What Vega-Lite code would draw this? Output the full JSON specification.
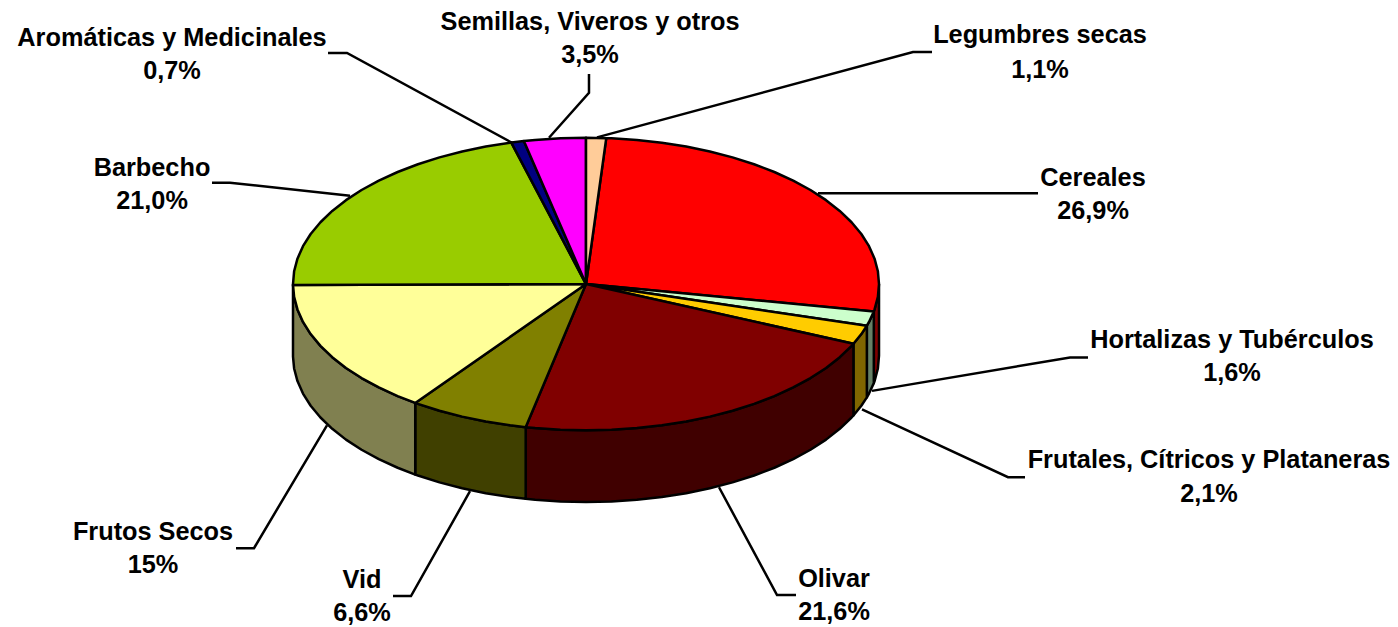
{
"$schema":"https://vega.github.io/schema/vega-lite/v6.json",
"width":1398,"height":627,
"autosize":{"type":"fit","contains":"padding"},
"padding":0,
"background":"white",
"view":{"stroke":null},
"datasets":{
"lideres":[
{"lider":"Legumbres secas","i":0,"x":0.0375,"y":1.003},{"lider":"Legumbres secas","i":1,"x":1.116,"y":1.587},{"lider":"Legumbres secas","i":2,"x":1.1809,"y":1.587},
{"lider":"Cereales","i":0,"x":0.7918,"y":0.6212},{"lider":"Cereales","i":1,"x":1.5427,"y":0.6212},
{"lider":"Hortalizas y Tubérculos","i":0,"x":0.9761,"y":-0.7304},{"lider":"Hortalizas y Tubérculos","i":1,"x":1.6519,"y":-0.5017},{"lider":"Hortalizas y Tubérculos","i":2,"x":1.7133,"y":-0.5017},
{"lider":"Frutales, Cítricos y Plataneras","i":0,"x":0.942,"y":-0.8567},{"lider":"Frutales, Cítricos y Plataneras","i":1,"x":1.4403,"y":-1.3208},{"lider":"Frutales, Cítricos y Plataneras","i":2,"x":1.4983,"y":-1.3208},
{"lider":"Olivar","i":0,"x":0.4539,"y":-1.3891},{"lider":"Olivar","i":1,"x":0.6519,"y":-2.1263},{"lider":"Olivar","i":2,"x":0.7167,"y":-2.1263},
{"lider":"Vid","i":0,"x":-0.3959,"y":-1.4164},{"lider":"Vid","i":1,"x":-0.5973,"y":-2.1331},{"lider":"Vid","i":2,"x":-0.6587,"y":-2.1331},
{"lider":"Frutos Secos","i":0,"x":-0.884,"y":-0.9659},{"lider":"Frutos Secos","i":1,"x":-1.1331,"y":-1.8055},{"lider":"Frutos Secos","i":2,"x":-1.1945,"y":-1.8055},
{"lider":"Barbecho","i":0,"x":-0.8055,"y":0.6041},{"lider":"Barbecho","i":1,"x":-1.215,"y":0.6928},{"lider":"Barbecho","i":2,"x":-1.2765,"y":0.6928},
{"lider":"Aromáticas y Medicinales","i":0,"x":-0.2526,"y":0.9659},{"lider":"Aromáticas y Medicinales","i":1,"x":-0.8157,"y":1.5802},{"lider":"Aromáticas y Medicinales","i":2,"x":-0.8805,"y":1.5802},
{"lider":"Semillas, Viveros y otros","i":0,"x":-0.1263,"y":1.0},{"lider":"Semillas, Viveros y otros","i":1,"x":0.0102,"y":1.3072},{"lider":"Semillas, Viveros y otros","i":2,"x":0.0102,"y":1.4369}
],
"laterales":[
{"sector":"Cereales","i":0,"x":1,"y":0},{"sector":"Cereales","i":1,"x":0.9962,"y":-0.0872},{"sector":"Cereales","i":2,"x":0.9848,"y":-0.1736},{"sector":"Cereales","i":3,"x":0.9823,"y":-0.1874},{"sector":"Cereales","i":4,"x":0.9823,"y":-0.6774},{"sector":"Cereales","i":5,"x":0.9848,"y":-0.6636},{"sector":"Cereales","i":6,"x":0.9962,"y":-0.5772},{"sector":"Cereales","i":7,"x":1,"y":-0.49},{"sector":"Cereales","i":8,"x":1,"y":0},
{"sector":"Hortalizas","i":0,"x":0.9823,"y":-0.1874},{"sector":"Hortalizas","i":1,"x":0.9659,"y":-0.2588},{"sector":"Hortalizas","i":2,"x":0.9585,"y":-0.285},{"sector":"Hortalizas","i":3,"x":0.9585,"y":-0.775},{"sector":"Hortalizas","i":4,"x":0.9659,"y":-0.7488},{"sector":"Hortalizas","i":5,"x":0.9823,"y":-0.6774},{"sector":"Hortalizas","i":6,"x":0.9823,"y":-0.1874},
{"sector":"Frutales","i":0,"x":0.9585,"y":-0.285},{"sector":"Frutales","i":1,"x":0.9397,"y":-0.342},{"sector":"Frutales","i":2,"x":0.9127,"y":-0.4086},{"sector":"Frutales","i":3,"x":0.9127,"y":-0.8986},{"sector":"Frutales","i":4,"x":0.9397,"y":-0.832},{"sector":"Frutales","i":5,"x":0.9585,"y":-0.775},{"sector":"Frutales","i":6,"x":0.9585,"y":-0.285},
{"sector":"Olivar","i":0,"x":0.9127,"y":-0.4086},{"sector":"Olivar","i":1,"x":0.9063,"y":-0.4226},{"sector":"Olivar","i":2,"x":0.866,"y":-0.5},{"sector":"Olivar","i":3,"x":0.8192,"y":-0.5736},{"sector":"Olivar","i":4,"x":0.766,"y":-0.6428},{"sector":"Olivar","i":5,"x":0.7071,"y":-0.7071},{"sector":"Olivar","i":6,"x":0.6428,"y":-0.766},{"sector":"Olivar","i":7,"x":0.5736,"y":-0.8192},{"sector":"Olivar","i":8,"x":0.5,"y":-0.866},{"sector":"Olivar","i":9,"x":0.4226,"y":-0.9063},{"sector":"Olivar","i":10,"x":0.342,"y":-0.9397},{"sector":"Olivar","i":11,"x":0.2588,"y":-0.9659},{"sector":"Olivar","i":12,"x":0.1736,"y":-0.9848},{"sector":"Olivar","i":13,"x":0.0872,"y":-0.9962},{"sector":"Olivar","i":14,"x":0,"y":-1},{"sector":"Olivar","i":15,"x":-0.0872,"y":-0.9962},{"sector":"Olivar","i":16,"x":-0.1736,"y":-0.9848},{"sector":"Olivar","i":17,"x":-0.2059,"y":-0.9786},
{"sector":"Olivar","i":18,"x":-0.2059,"y":-1.4686},{"sector":"Olivar","i":19,"x":-0.1736,"y":-1.4748},{"sector":"Olivar","i":20,"x":-0.0872,"y":-1.4862},{"sector":"Olivar","i":21,"x":0,"y":-1.49},{"sector":"Olivar","i":22,"x":0.0872,"y":-1.4862},{"sector":"Olivar","i":23,"x":0.1736,"y":-1.4748},{"sector":"Olivar","i":24,"x":0.2588,"y":-1.4559},{"sector":"Olivar","i":25,"x":0.342,"y":-1.4297},{"sector":"Olivar","i":26,"x":0.4226,"y":-1.3963},{"sector":"Olivar","i":27,"x":0.5,"y":-1.356},{"sector":"Olivar","i":28,"x":0.5736,"y":-1.3092},{"sector":"Olivar","i":29,"x":0.6428,"y":-1.256},{"sector":"Olivar","i":30,"x":0.7071,"y":-1.1971},{"sector":"Olivar","i":31,"x":0.766,"y":-1.1328},{"sector":"Olivar","i":32,"x":0.8192,"y":-1.0636},{"sector":"Olivar","i":33,"x":0.866,"y":-0.99},{"sector":"Olivar","i":34,"x":0.9063,"y":-0.9126},{"sector":"Olivar","i":35,"x":0.9127,"y":-0.8986},{"sector":"Olivar","i":36,"x":0.9127,"y":-0.4086},
{"sector":"Vid","i":0,"x":-0.2059,"y":-0.9786},{"sector":"Vid","i":1,"x":-0.2588,"y":-0.9659},{"sector":"Vid","i":2,"x":-0.342,"y":-0.9397},{"sector":"Vid","i":3,"x":-0.4226,"y":-0.9063},{"sector":"Vid","i":4,"x":-0.5,"y":-0.866},{"sector":"Vid","i":5,"x":-0.5736,"y":-0.8192},{"sector":"Vid","i":6,"x":-0.5828,"y":-0.8126},{"sector":"Vid","i":7,"x":-0.5828,"y":-1.3026},{"sector":"Vid","i":8,"x":-0.5736,"y":-1.3092},{"sector":"Vid","i":9,"x":-0.5,"y":-1.356},{"sector":"Vid","i":10,"x":-0.4226,"y":-1.3963},{"sector":"Vid","i":11,"x":-0.342,"y":-1.4297},{"sector":"Vid","i":12,"x":-0.2588,"y":-1.4559},{"sector":"Vid","i":13,"x":-0.2059,"y":-1.4686},{"sector":"Vid","i":14,"x":-0.2059,"y":-0.9786},
{"sector":"Frutos Secos","i":0,"x":-0.5828,"y":-0.8126},{"sector":"Frutos Secos","i":1,"x":-0.6428,"y":-0.766},{"sector":"Frutos Secos","i":2,"x":-0.7071,"y":-0.7071},{"sector":"Frutos Secos","i":3,"x":-0.766,"y":-0.6428},{"sector":"Frutos Secos","i":4,"x":-0.8192,"y":-0.5736},{"sector":"Frutos Secos","i":5,"x":-0.866,"y":-0.5},{"sector":"Frutos Secos","i":6,"x":-0.9063,"y":-0.4226},{"sector":"Frutos Secos","i":7,"x":-0.9397,"y":-0.342},{"sector":"Frutos Secos","i":8,"x":-0.9659,"y":-0.2588},{"sector":"Frutos Secos","i":9,"x":-0.9848,"y":-0.1736},{"sector":"Frutos Secos","i":10,"x":-0.9962,"y":-0.0872},{"sector":"Frutos Secos","i":11,"x":-1,"y":-0.0063},
{"sector":"Frutos Secos","i":12,"x":-1,"y":-0.4963},{"sector":"Frutos Secos","i":13,"x":-0.9962,"y":-0.5772},{"sector":"Frutos Secos","i":14,"x":-0.9848,"y":-0.6636},{"sector":"Frutos Secos","i":15,"x":-0.9659,"y":-0.7488},{"sector":"Frutos Secos","i":16,"x":-0.9397,"y":-0.832},{"sector":"Frutos Secos","i":17,"x":-0.9063,"y":-0.9126},{"sector":"Frutos Secos","i":18,"x":-0.866,"y":-0.99},{"sector":"Frutos Secos","i":19,"x":-0.8192,"y":-1.0636},{"sector":"Frutos Secos","i":20,"x":-0.766,"y":-1.1328},{"sector":"Frutos Secos","i":21,"x":-0.7071,"y":-1.1971},{"sector":"Frutos Secos","i":22,"x":-0.6428,"y":-1.256},{"sector":"Frutos Secos","i":23,"x":-0.5828,"y":-1.3026},{"sector":"Frutos Secos","i":24,"x":-0.5828,"y":-0.8126}
],
"caras":[
{"sector":"Cereales","i":0,"x":0,"y":0},{"sector":"Cereales","i":1,"x":0.0691,"y":0.9976},{"sector":"Cereales","i":2,"x":0.0872,"y":0.9962},{"sector":"Cereales","i":3,"x":0.1736,"y":0.9848},{"sector":"Cereales","i":4,"x":0.2588,"y":0.9659},{"sector":"Cereales","i":5,"x":0.342,"y":0.9397},{"sector":"Cereales","i":6,"x":0.4226,"y":0.9063},{"sector":"Cereales","i":7,"x":0.5,"y":0.866},{"sector":"Cereales","i":8,"x":0.5736,"y":0.8192},{"sector":"Cereales","i":9,"x":0.6428,"y":0.766},{"sector":"Cereales","i":10,"x":0.7071,"y":0.7071},{"sector":"Cereales","i":11,"x":0.766,"y":0.6428},{"sector":"Cereales","i":12,"x":0.8192,"y":0.5736},{"sector":"Cereales","i":13,"x":0.866,"y":0.5},{"sector":"Cereales","i":14,"x":0.9063,"y":0.4226},{"sector":"Cereales","i":15,"x":0.9397,"y":0.342},{"sector":"Cereales","i":16,"x":0.9659,"y":0.2588},{"sector":"Cereales","i":17,"x":0.9848,"y":0.1736},{"sector":"Cereales","i":18,"x":0.9962,"y":0.0872},{"sector":"Cereales","i":19,"x":1,"y":0},{"sector":"Cereales","i":20,"x":0.9962,"y":-0.0872},{"sector":"Cereales","i":21,"x":0.9848,"y":-0.1736},{"sector":"Cereales","i":22,"x":0.9823,"y":-0.1874},{"sector":"Cereales","i":23,"x":0,"y":0},
{"sector":"Hortalizas","i":0,"x":0,"y":0},{"sector":"Hortalizas","i":1,"x":0.9823,"y":-0.1874},{"sector":"Hortalizas","i":2,"x":0.9659,"y":-0.2588},{"sector":"Hortalizas","i":3,"x":0.9585,"y":-0.285},{"sector":"Hortalizas","i":4,"x":0,"y":0},
{"sector":"Frutales","i":0,"x":0,"y":0},{"sector":"Frutales","i":1,"x":0.9585,"y":-0.285},{"sector":"Frutales","i":2,"x":0.9397,"y":-0.342},{"sector":"Frutales","i":3,"x":0.9127,"y":-0.4086},{"sector":"Frutales","i":4,"x":0,"y":0},
{"sector":"Olivar","i":0,"x":0,"y":0},{"sector":"Olivar","i":1,"x":0.9127,"y":-0.4086},{"sector":"Olivar","i":2,"x":0.9063,"y":-0.4226},{"sector":"Olivar","i":3,"x":0.866,"y":-0.5},{"sector":"Olivar","i":4,"x":0.8192,"y":-0.5736},{"sector":"Olivar","i":5,"x":0.766,"y":-0.6428},{"sector":"Olivar","i":6,"x":0.7071,"y":-0.7071},{"sector":"Olivar","i":7,"x":0.6428,"y":-0.766},{"sector":"Olivar","i":8,"x":0.5736,"y":-0.8192},{"sector":"Olivar","i":9,"x":0.5,"y":-0.866},{"sector":"Olivar","i":10,"x":0.4226,"y":-0.9063},{"sector":"Olivar","i":11,"x":0.342,"y":-0.9397},{"sector":"Olivar","i":12,"x":0.2588,"y":-0.9659},{"sector":"Olivar","i":13,"x":0.1736,"y":-0.9848},{"sector":"Olivar","i":14,"x":0.0872,"y":-0.9962},{"sector":"Olivar","i":15,"x":0,"y":-1},{"sector":"Olivar","i":16,"x":-0.0872,"y":-0.9962},{"sector":"Olivar","i":17,"x":-0.1736,"y":-0.9848},{"sector":"Olivar","i":18,"x":-0.2059,"y":-0.9786},{"sector":"Olivar","i":19,"x":0,"y":0},
{"sector":"Vid","i":0,"x":0,"y":0},{"sector":"Vid","i":1,"x":-0.2059,"y":-0.9786},{"sector":"Vid","i":2,"x":-0.2588,"y":-0.9659},{"sector":"Vid","i":3,"x":-0.342,"y":-0.9397},{"sector":"Vid","i":4,"x":-0.4226,"y":-0.9063},{"sector":"Vid","i":5,"x":-0.5,"y":-0.866},{"sector":"Vid","i":6,"x":-0.5736,"y":-0.8192},{"sector":"Vid","i":7,"x":-0.5828,"y":-0.8126},{"sector":"Vid","i":8,"x":0,"y":0},
{"sector":"Frutos Secos","i":0,"x":0,"y":0},{"sector":"Frutos Secos","i":1,"x":-0.5828,"y":-0.8126},{"sector":"Frutos Secos","i":2,"x":-0.6428,"y":-0.766},{"sector":"Frutos Secos","i":3,"x":-0.7071,"y":-0.7071},{"sector":"Frutos Secos","i":4,"x":-0.766,"y":-0.6428},{"sector":"Frutos Secos","i":5,"x":-0.8192,"y":-0.5736},{"sector":"Frutos Secos","i":6,"x":-0.866,"y":-0.5},{"sector":"Frutos Secos","i":7,"x":-0.9063,"y":-0.4226},{"sector":"Frutos Secos","i":8,"x":-0.9397,"y":-0.342},{"sector":"Frutos Secos","i":9,"x":-0.9659,"y":-0.2588},{"sector":"Frutos Secos","i":10,"x":-0.9848,"y":-0.1736},{"sector":"Frutos Secos","i":11,"x":-0.9962,"y":-0.0872},{"sector":"Frutos Secos","i":12,"x":-1,"y":-0.0063},{"sector":"Frutos Secos","i":13,"x":0,"y":0},
{"sector":"Barbecho","i":0,"x":0,"y":0},{"sector":"Barbecho","i":1,"x":-1,"y":-0.0063},{"sector":"Barbecho","i":2,"x":-1,"y":0},{"sector":"Barbecho","i":3,"x":-0.9962,"y":0.0872},{"sector":"Barbecho","i":4,"x":-0.9848,"y":0.1736},{"sector":"Barbecho","i":5,"x":-0.9659,"y":0.2588},{"sector":"Barbecho","i":6,"x":-0.9397,"y":0.342},{"sector":"Barbecho","i":7,"x":-0.9063,"y":0.4226},{"sector":"Barbecho","i":8,"x":-0.866,"y":0.5},{"sector":"Barbecho","i":9,"x":-0.8192,"y":0.5736},{"sector":"Barbecho","i":10,"x":-0.766,"y":0.6428},{"sector":"Barbecho","i":11,"x":-0.7071,"y":0.7071},{"sector":"Barbecho","i":12,"x":-0.6428,"y":0.766},{"sector":"Barbecho","i":13,"x":-0.5736,"y":0.8192},{"sector":"Barbecho","i":14,"x":-0.5,"y":0.866},{"sector":"Barbecho","i":15,"x":-0.4226,"y":0.9063},{"sector":"Barbecho","i":16,"x":-0.342,"y":0.9397},{"sector":"Barbecho","i":17,"x":-0.2588,"y":0.9659},{"sector":"Barbecho","i":18,"x":-0.2548,"y":0.967},{"sector":"Barbecho","i":19,"x":0,"y":0},
{"sector":"Aromáticas","i":0,"x":0,"y":0},{"sector":"Aromáticas","i":1,"x":-0.2548,"y":0.967},{"sector":"Aromáticas","i":2,"x":-0.212,"y":0.9773},{"sector":"Aromáticas","i":3,"x":0,"y":0},
{"sector":"Semillas","i":0,"x":0,"y":0},{"sector":"Semillas","i":1,"x":-0.212,"y":0.9773},{"sector":"Semillas","i":2,"x":-0.1736,"y":0.9848},{"sector":"Semillas","i":3,"x":-0.0872,"y":0.9962},{"sector":"Semillas","i":4,"x":0,"y":1},{"sector":"Semillas","i":5,"x":0,"y":0},
{"sector":"Legumbres","i":0,"x":0,"y":0},{"sector":"Legumbres","i":1,"x":0,"y":1},{"sector":"Legumbres","i":2,"x":0.0691,"y":0.9976},{"sector":"Legumbres","i":3,"x":0,"y":0}
],
"etiquetas":[
{"texto":"Semillas, Viveros y otros","x":0.0137,"y":1.7372},{"texto":"3,5%","x":0.0137,"y":1.5119},
{"texto":"Legumbres secas","x":1.5495,"y":1.6485},{"texto":"1,1%","x":1.5495,"y":1.4096},
{"texto":"Cereales","x":1.7304,"y":0.6724},{"texto":"26,9%","x":1.7304,"y":0.4471},
{"texto":"Hortalizas y Tubérculos","x":2.2048,"y":-0.4403},{"texto":"1,6%","x":2.2048,"y":-0.6655},
{"texto":"Frutales, Cítricos y Plataneras","x":2.1263,"y":-1.2594},{"texto":"2,1%","x":2.1263,"y":-1.4915},
{"texto":"Olivar","x":0.8464,"y":-2.0717},{"texto":"21,6%","x":0.8464,"y":-2.2969},
{"texto":"Vid","x":-0.7645,"y":-2.0785},{"texto":"6,6%","x":-0.7645,"y":-2.3038},
{"texto":"Frutos Secos","x":-1.4778,"y":-1.7509},{"texto":"15%","x":-1.4778,"y":-1.9761},
{"texto":"Barbecho","x":-1.4812,"y":0.7406},{"texto":"21,0%","x":-1.4812,"y":0.5154},
{"texto":"Aromáticas y Medicinales","x":-1.413,"y":1.628},{"texto":"0,7%","x":-1.413,"y":1.4027}
]
},
"encoding":{
"x":{"field":"x","type":"quantitative","axis":null,"scale":{"domain":[-2,2.7713],"nice":false,"zero":false}},
"y":{"field":"y","type":"quantitative","axis":null,"scale":{"domain":[-2.3379,1.94198],"nice":false,"zero":false}}
},
"layer":[
{"data":{"name":"lideres"},
 "mark":{"type":"line","color":"black","strokeWidth":2.5},
 "encoding":{"detail":{"field":"lider"},"order":{"field":"i","type":"quantitative"}}},
{"data":{"name":"laterales"},
 "mark":{"type":"line","filled":true,"stroke":"black","strokeWidth":2.5,"strokeJoin":"round"},
 "encoding":{"order":{"field":"i","type":"quantitative"},
  "fill":{"field":"sector","type":"nominal","legend":null,"scale":{"domain":["Cereales","Hortalizas","Frutales","Olivar","Vid","Frutos Secos"],"range":["#800000","#668066","#806600","#400000","#404000","#808050"]}}}},
{"data":{"name":"caras"},
 "mark":{"type":"line","filled":true,"stroke":"black","strokeWidth":2.5,"strokeJoin":"round"},
 "encoding":{"order":{"field":"i","type":"quantitative"},
  "fill":{"field":"sector","type":"nominal","legend":null,"scale":{"domain":["Cereales","Hortalizas","Frutales","Olivar","Vid","Frutos Secos","Barbecho","Aromáticas","Semillas","Legumbres"],"range":["#FF0000","#CCFFCC","#FFCC00","#800000","#808000","#FFFF99","#99CC00","#000080","#FF00FF","#FFCC99"]}}}},
{"data":{"name":"etiquetas"},
 "mark":{"type":"text","font":"Liberation Sans","fontWeight":"bold","fontSize":25.3,"align":"center","baseline":"alphabetic","color":"black"},
 "encoding":{"text":{"field":"texto","type":"nominal"}}}
],
"resolve":{"scale":{"fill":"independent"}}
}
